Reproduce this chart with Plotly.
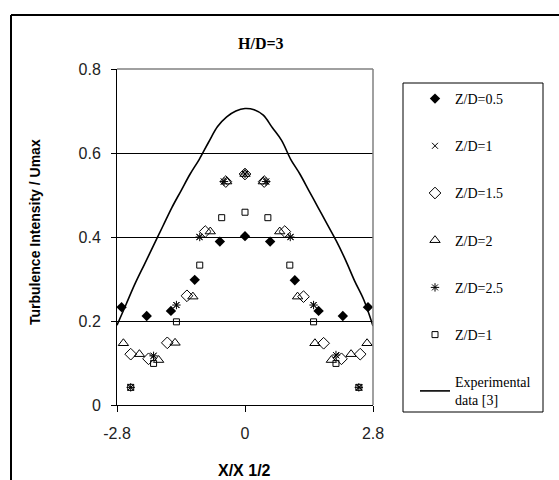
import plotly.graph_objects as go

# ---- data ----
x_zd05 = [-2.7, -2.15, -1.62, -1.1, -0.55, 0, 0.55, 1.09, 1.61, 2.14, 2.69]
y_zd05 = [0.233, 0.212, 0.224, 0.298, 0.389, 0.402, 0.389, 0.297, 0.224, 0.212, 0.233]

x_zd1 = [-2.5, -2.0, -1.5, -1.0, -0.46, 0, 0.46, 1.0, 1.5, 2.0, 2.5]
y_zd1 = [0.042, 0.117, 0.238, 0.400, 0.532, 0.55, 0.532, 0.400, 0.238, 0.118, 0.042]

x_zd15 = [-2.5, -2.11, -1.70, -1.27, -0.87, -0.42, 0, 0.42, 0.87, 1.28, 1.72, 2.11, 2.52]
y_zd15 = [0.121, 0.110, 0.148, 0.260, 0.413, 0.532, 0.55, 0.532, 0.413, 0.258, 0.147, 0.110, 0.121]

x_zd2 = [-2.66, -2.31, -1.89, -1.53, -1.14, -0.76, -0.40, 0, 0.40, 0.76, 1.15, 1.53, 1.89, 2.32, 2.67]
y_zd2 = [0.147, 0.121, 0.107, 0.148, 0.258, 0.413, 0.532, 0.55, 0.532, 0.413, 0.258, 0.147, 0.107, 0.121, 0.147]

x_zd25 = [-2.5, -2.0, -1.5, -0.99, -0.46, 0, 0.46, 0.99, 1.5, 1.99, 2.49]
y_zd25 = [0.042, 0.117, 0.238, 0.400, 0.532, 0.55, 0.532, 0.400, 0.238, 0.119, 0.042]

x_zd1b = [-2.5, -2.0, -1.5, -0.99, -0.51, 0, 0.5, 0.98, 1.5, 1.99, 2.49]
y_zd1b = [0.042, 0.099, 0.198, 0.333, 0.446, 0.459, 0.446, 0.333, 0.198, 0.099, 0.042]

x_exp = [-2.8, -2.6, -2.4, -2.2, -2.0, -1.8, -1.6, -1.4, -1.2, -1.0, -0.8, -0.6, -0.4, -0.2,
         0.0, 0.2, 0.4, 0.6, 0.8, 1.0, 1.2, 1.4, 1.6, 1.8, 2.0, 2.2, 2.4, 2.6, 2.8]
y_exp = [0.19, 0.24, 0.29, 0.335, 0.38, 0.425, 0.47, 0.51, 0.55, 0.585, 0.625, 0.663, 0.686, 0.70,
         0.706, 0.703, 0.69, 0.66, 0.63, 0.585, 0.55, 0.51, 0.47, 0.43, 0.39, 0.345, 0.295, 0.25, 0.188]

x_ticks = [-2.8, 0, 2.8]
x_tick_labels = ["-2.8", "0", "2.8"]
y_ticks = [0, 0.2, 0.4, 0.6, 0.8]
y_tick_labels = ["0", "0.2", "0.4", "0.6", "0.8"]

# ---- figure ----
fig = go.Figure()

def add_series(x, y, name, symbol, size, lw=1):
    fig.add_trace(go.Scatter(
        x=x, y=y, mode="markers", name=name, legendgroup=name,
        marker=dict(symbol=symbol, size=size, color="black",
                    line=dict(color="black", width=lw)),
    ))

add_series(x_zd05, y_zd05, "Z/D=0.5", "diamond", 8, 0)
add_series(x_zd1, y_zd1, "Z/D=1", "x-thin-open", 6, 1)
add_series(x_zd15, y_zd15, "Z/D=1.5", "diamond-open", 9, 1)
add_series(x_zd2, y_zd2, "Z/D=2", "triangle-up-open", 9, 1)
add_series(x_zd25, y_zd25, "Z/D=2.5", "asterisk-open", 7, 1)
add_series(x_zd1b, y_zd1b, "Z/D=1 ", "square-open", 6, 1)

fig.add_trace(go.Scatter(
    x=x_exp, y=y_exp, mode="lines", name="Experimental<br>data [3]",
    legendgroup="exp", line=dict(color="black", width=1.6, shape="spline"),
))

# plot area in pixels: left 117, right 373, top 69, bottom 405
L, R, T, B = 117, 373, 69, 405
W, H = 559, 480
pw, ph = R - L, B - T

def px(xp):
    return (xp - L) / pw

def py(yp):
    return (B - yp) / ph

fig.update_layout(
    width=W, height=H,
    margin=dict(l=L, r=W - R, t=T, b=H - B, pad=0),
    paper_bgcolor="white", plot_bgcolor="white",
    font=dict(family="Liberation Sans", color="black"),
    showlegend=True,
    legend=dict(
        x=px(415), y=py(83), xanchor="left", yanchor="top",
        bgcolor="rgba(0,0,0,0)", borderwidth=0,
        font=dict(family="Liberation Serif", size=14, color="black"),
        traceorder="grouped", tracegroupgap=26, itemsizing="trace",
    ),
    xaxis=dict(
        range=[-2.8, 2.8], tickmode="array", tickvals=x_ticks, ticktext=x_tick_labels,
        showgrid=False, zeroline=False, showline=True, linecolor="black", linewidth=1,
        ticks="outside", ticklen=6, tickcolor="black", ticklabelstandoff=8,
        tickfont=dict(family="Liberation Sans", size=16, color="#222"),
    ),
    yaxis=dict(
        range=[0, 0.8], tickmode="array", tickvals=y_ticks, ticktext=y_tick_labels,
        showgrid=True, gridcolor="black", gridwidth=1, zeroline=False,
        showline=True, linecolor="black", linewidth=1,
        ticks="outside", ticklen=5, tickcolor="black", ticklabelstandoff=7,
        tickfont=dict(family="Liberation Sans", size=16, color="#222"),
    ),
    shapes=[
        # gray top and right plot frame
        dict(type="line", xref="paper", yref="paper", x0=0, x1=1, y0=1, y1=1,
             line=dict(color="#808080", width=1.5)),
        dict(type="line", xref="paper", yref="paper", x0=1, x1=1, y0=0, y1=1,
             line=dict(color="#808080", width=1.5)),
        # legend box
        dict(type="rect", xref="paper", yref="paper", x0=px(403), x1=px(543), y0=py(412), y1=py(83),
             line=dict(color="black", width=1), fillcolor="rgba(0,0,0,0)"),
        # outer chart border (top and left visible)
        dict(type="line", xref="paper", yref="paper", x0=px(11), x1=px(600), y0=py(15), y1=py(15),
             line=dict(color="black", width=2)),
        dict(type="line", xref="paper", yref="paper", x0=px(11), x1=px(11), y0=py(15), y1=py(500),
             line=dict(color="black", width=2)),
    ],
    annotations=[
        dict(text="<b>H/D=3</b>", xref="paper", yref="paper", x=px(261), y=py(43),
             showarrow=False, xanchor="center", yanchor="middle",
             font=dict(family="Liberation Serif", size=16, color="black")),
        dict(text="<b>Turbulence Intensity / Umax</b>", xref="paper", yref="paper",
             x=px(35), y=py(232), textangle=-90, showarrow=False,
             xanchor="center", yanchor="middle",
             font=dict(family="Liberation Sans", size=14, color="black")),
        dict(text="<b>X/X 1/2</b>", xref="paper", yref="paper", x=px(244), y=py(470),
             showarrow=False, xanchor="center", yanchor="middle",
             font=dict(family="Liberation Sans", size=16, color="black")),
    ],
)

fig.write_html("out.html")
